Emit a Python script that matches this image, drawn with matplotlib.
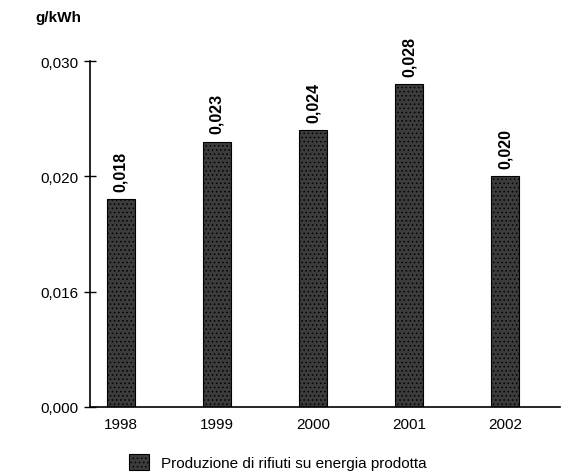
import matplotlib
matplotlib.use("Agg")
import matplotlib.pyplot as plt
import numpy as np

plt.rcParams["font.family"] = ["Liberation Sans", "DejaVu Sans"]
plt.rcParams["hatch.color"] = "#8a8a8a"
plt.rcParams["hatch.linewidth"] = 0.6

years = ["1998", "1999", "2000", "2001", "2002"]
values = [0.018, 0.023, 0.024, 0.028, 0.020]
value_labels = ["0,018", "0,023", "0,024", "0,028", "0,020"]
ytick_pos = [0.000, 0.010, 0.020, 0.030]
ytick_labels = ["0,000", "0,016", "0,020", "0,030"]

fig = plt.figure(figsize=(5.76, 4.77), dpi=100)
ax = fig.add_axes([90 / 576, 69 / 477, (560 - 90) / 576, (408 - 62) / 477])

x = np.arange(len(years))
ax.bar(x, values, width=0.29, color="#3c3c3c", edgecolor="black",
       linewidth=0.8, hatch="....",
       label="Produzione di rifiuti su energia prodotta")

for xi, v, lab in zip(x, values, value_labels):
    ax.annotate(lab, (xi, v), xytext=(0, 6), textcoords="offset points",
                rotation=90, ha="center", va="bottom",
                fontsize=11.5, fontweight="bold")

ax.set_xlim(-0.32, 4.57)
ax.set_ylim(0, 0.030)
ax.set_yticks(ytick_pos)
ax.set_yticklabels(ytick_labels, fontsize=11)
ax.set_xticks(x)
ax.set_xticklabels(years, fontsize=11)
ax.tick_params(axis="y", direction="inout", length=8, width=1, pad=4)
ax.tick_params(axis="x", length=0, pad=7)
ax.spines["top"].set_visible(False)
ax.spines["right"].set_visible(False)
ax.spines["left"].set_linewidth(1.2)
ax.spines["bottom"].set_linewidth(1.2)

fig.text(35 / 576, 1 - 18 / 477, "g/kWh", fontsize=11, fontweight="bold",
         va="center", ha="left")

ax.legend(loc="upper left", bbox_to_anchor=(115 / 576, 1 - 441 / 477),
          bbox_transform=fig.transFigure, frameon=False, fontsize=11,
          handlelength=1.3, handleheight=1.3, handletextpad=0.8)

fig.savefig("out.png", dpi=100)
